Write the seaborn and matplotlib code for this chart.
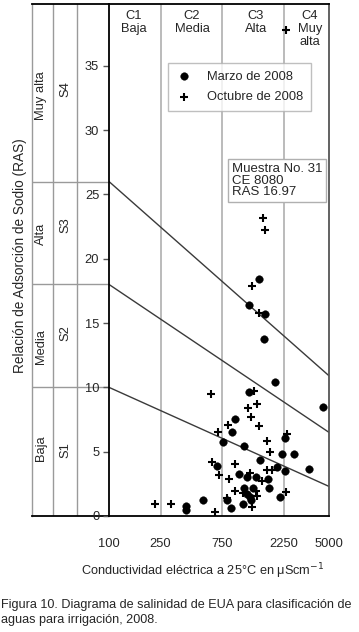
import matplotlib
matplotlib.use("Agg")
import matplotlib.pyplot as plt
import pandas as pd
import seaborn as sns

# Muestras de marzo de 2008 (circulos): CE en uS/cm, RAS
marzo_ce = [1432, 1199, 1611, 1574, 1914, 1212, 4517, 935, 886, 2286,
            763, 1097, 2167, 2683, 1473, 3500, 686, 1993, 2297, 1009,
            1157, 1365, 1705, 1103, 1301, 1720, 1157, 1227, 2103, 1249,
            815, 391, 393, 535, 871, 1074]
marzo_ras = [18.42, 16.40, 15.67, 13.75, 10.43, 9.65, 8.48, 7.55, 6.56, 6.05,
             5.76, 5.41, 4.79, 4.79, 4.38, 3.66, 3.89, 3.81, 3.46, 3.25,
             3.04, 3.00, 2.86, 2.16, 2.20, 2.14, 1.69, 1.48, 1.48, 1.25,
             1.25, 0.75, 0.49, 1.25, 0.62, 0.93]

# Muestras de octubre de 2008 (cruces)
octubre_ce = [1538, 1611, 1265, 1432, 608, 1310, 1382, 1178, 1243, 825,
              1447, 691, 2369, 1669, 1751, 624, 945, 1651, 1805, 701,
              852, 1227, 1511, 948, 1089, 1365, 1397, 2315, 228, 299,
              659, 1265, 815, 2328]
octubre_ras = [23.17, 22.23, 17.88, 15.77, 9.46, 9.73, 8.69, 8.40, 7.67, 7.06,
               7.03, 6.56, 6.38, 5.84, 4.94, 4.20, 4.05, 3.54, 3.58, 3.19,
               2.86, 3.31, 2.72, 1.91, 1.81, 1.95, 1.56, 1.87, 0.96, 0.93,
               0.31, 0.70, 1.40, 37.8]

# limites de clases
ce_limits = [250, 750, 2250]
ce_ticks = [100, 250, 750, 2250, 5000]
c_labels = ["C1\nBaja", "C2\nMedia", "C3\nAlta", "C4\nMuy\nalta"]
s_left = [10, 18, 26]      # RAS en CE = 100
s_right = [2.3, 6.5, 10.9]  # RAS en CE = 5000
s_labels = ["Baja", "Media", "Alta", "Muy alta"]
s_codes = ["S1", "S2", "S3", "S4"]
s_label_y = [5.3, 13.2, 21.9, 32.7]
s_code_y = [5.1, 14.2, 22.6, 33.2]

sns.set_theme(style="white")
plt.rcParams["font.family"] = ["Liberation Sans Narrow", "Liberation Sans", "DejaVu Sans"]
plt.rcParams["mathtext.fontset"] = "dejavusans"

W, H = 359, 632
fig = plt.figure(figsize=(W / 100, H / 100), dpi=100)
fig.patch.set_facecolor("white")

bottom = (H - 516) / H
height = 512 / H
ymax = 39.8

# panel lateral con clases de sodio
side = fig.add_axes([32 / W, bottom, 77 / W, height])
side.set_xlim(0, 1)
side.set_ylim(0, ymax)
side.set_xticks([])
side.set_yticks([])
side.spines["right"].set_visible(False)
for sp in ["top", "bottom"]:
    side.spines[sp].set_color("black")
    side.spines[sp].set_linewidth(1.3)
side.spines["left"].set_color("#9a9a9a")
side.spines["left"].set_linewidth(1.0)
side.axvline(0.273, color="#9a9a9a", lw=1.0)
side.axvline(0.584, color="#9a9a9a", lw=1.0)
side.hlines(s_left, 0, 1, color="#9a9a9a", lw=1.0)
for lab, ly in zip(s_labels, s_label_y):
    side.text(0.12, ly, lab, rotation=90, ha="center", va="center", fontsize=9.3)
for code, cy in zip(s_codes, s_code_y):
    side.text(0.44, cy, code, rotation=90, ha="center", va="center", fontsize=9.3)

ax = fig.add_axes([109 / W, bottom, 220 / W, height])
ax.set_facecolor("white")

for xv in ce_limits:
    ax.axvline(xv, color="#a8a8a8", lw=1.1, zorder=0)

for yl, yr in zip(s_left, s_right):
    ax.plot([100, 5000], [yl, yr], color="#3a3a3a", lw=1.0, zorder=1)

marzo = pd.DataFrame({"CE": marzo_ce, "RAS": marzo_ras})
octubre = pd.DataFrame({"CE": octubre_ce, "RAS": octubre_ras})
sns.scatterplot(data=marzo, x="CE", y="RAS", marker="o", s=30, color="black",
                edgecolor="black", linewidth=0.3, label="Marzo de 2008", ax=ax, zorder=3)
sns.scatterplot(data=octubre, x="CE", y="RAS", marker="+", s=34, color="black",
                linewidth=1.5, label="Octubre de 2008", ax=ax, zorder=3)

ax.set_xscale("log")
ax.set_xlim(100, 5000)
ax.set_ylim(0, ymax)
ax.set_xticks(ce_ticks)
ax.set_xticklabels([str(t) for t in ce_ticks])
ax.minorticks_off()
ax.set_yticks(range(0, 40, 5))
ax.tick_params(axis="x", length=4, width=1, color="#a8a8a8", pad=12, labelsize=9.3)
ax.tick_params(axis="y", length=4, width=1, color="#555555", pad=3, labelsize=9.3, left=True)
for sp in ax.spines.values():
    sp.set_color("black")
    sp.set_linewidth(1.3)
ax.spines["right"].set_color("#555555")

# encabezados de salinidad
for lab, cx in zip(c_labels, [0.114, 0.377, 0.668, 0.914]):
    ax.text(cx, 0.988, lab, transform=ax.transAxes, ha="center", va="top",
            fontsize=9.3, linespacing=1.1)

ax.set_xlabel("Conductividad eléctrica a 25°C en μScm$^{-1}$", fontsize=9.2)
ax.xaxis.set_label_coords((203 - 109) / 220, -0.088)
ax.set_ylabel("")
fig.text(20 / W, (H - 256) / H, "Relación de Adsorción de Sodio (RAS)",
         rotation=90, ha="center", va="center", fontsize=9.8)

leg = ax.legend(loc="upper left", bbox_to_anchor=((168 - 109) / 220, (516 - 63) / 512),
                borderaxespad=0, frameon=True, fancybox=False, fontsize=9.3,
                handletextpad=1.2, borderpad=0.6, labelspacing=0.65,
                handlelength=1.2)
leg.get_frame().set_edgecolor("#b0b0b0")
leg.get_frame().set_linewidth(1.0)

ax.text((232 - 109) / 220, (516 - 163) / 512, "Muestra No. 31\nCE 8080\nRAS 16.97",
        transform=ax.transAxes, ha="left", va="top", fontsize=9.5, linespacing=0.95,
        bbox=dict(boxstyle="square,pad=0.3", facecolor="white", edgecolor="#b0b0b0", lw=1.0))

fig.text(0.004, (H - 599) / H,
         "Figura 10. Diagrama de salinidad de EUA para clasificación de\naguas para irrigación, 2008.",
         ha="left", va="top", fontsize=9.1, linespacing=1.3)

fig.savefig("out.png", dpi=100)
